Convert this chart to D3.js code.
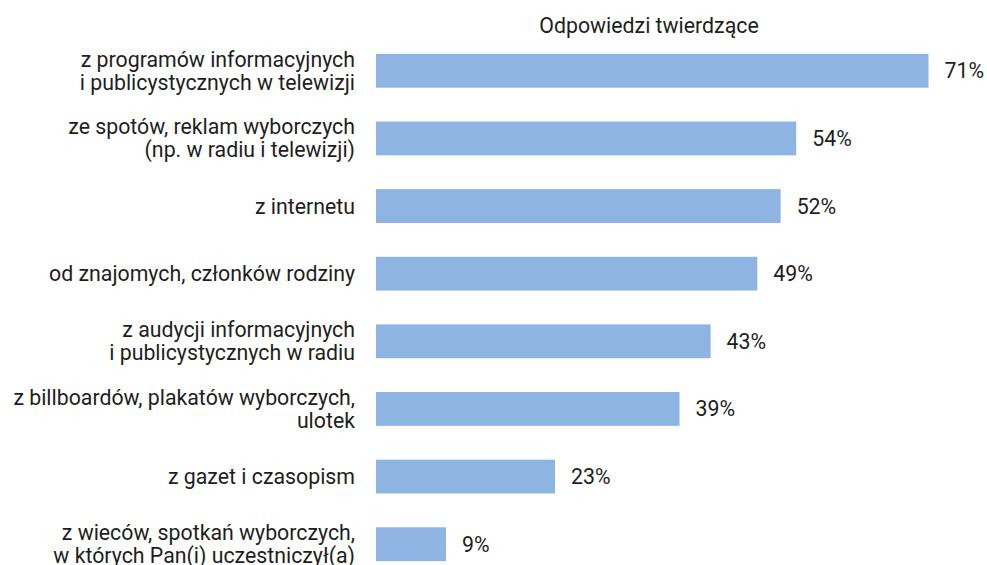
<!DOCTYPE html>
<html>
<head>
<meta charset="utf-8">
<script src="https://cdn.jsdelivr.net/npm/d3@7"></script>
<style>
  body { margin: 0; background: #fff; }
  text { font-family: Roboto, "Noto Sans", sans-serif; fill: #1e1e1e; }
</style>
</head>
<body>
<div class="canvas"></div>
<script>
// chart data
const categories = [
    ['z programów informacyjnych', 'i publicystycznych w telewizji'],
    ['ze spotów, reklam wyborczych', '(np. w radiu i telewizji)'],
    ['z internetu'],
    ['od znajomych, członków rodziny'],
    ['z audycji informacyjnych', 'i publicystycznych w radiu'],
    ['z billboardów, plakatów wyborczych,', 'ulotek'],
    ['z gazet i czasopism'],
    ['z wieców, spotkań wyborczych,', 'w których Pan(i) uczestniczył(a)']
];
const values = [71, 54, 52, 49, 43, 39, 23, 9];
const seriesName = 'Odpowiedzi twierdzące';

const dims = { width: 987, height: 565 };
const margin = { left: 376, top: 37, bottom: -13 };
const fontSize = 21.3;

const svg = d3.select('.canvas')
    .append('svg')
    .attr('width', dims.width)
    .attr('height', dims.height);

const x = d3.scaleLinear()
    .domain([0, 71])
    .range([margin.left, 928.5]);

const y = d3.scaleBand()
    .domain(d3.range(values.length))
    .range([margin.top, dims.height - margin.bottom])
    .paddingInner(0.5)
    .paddingOuter(0.25);

// series title
svg.append('text')
    .attr('x', 649)
    .attr('y', 33)
    .attr('text-anchor', 'middle')
    .attr('font-size', fontSize)
    .text(seriesName);

// bars
svg.selectAll('rect.bar')
    .data(values)
    .enter()
    .append('rect')
    .attr('class', 'bar')
    .attr('x', x(0))
    .attr('y', (d, i) => y(i))
    .attr('width', d => x(d) - x(0))
    .attr('height', y.bandwidth())
    .attr('fill', '#8eb4e3');

// value labels
svg.selectAll('text.val')
    .data(values)
    .enter()
    .append('text')
    .attr('class', 'val')
    .attr('x', d => x(d) + 16)
    .attr('y', (d, i) => y(i) + y.bandwidth() / 2)
    .attr('dominant-baseline', 'central')
    .attr('font-size', fontSize)
    .text(d => d + '%');

// category labels
const lineH = 23;
const labels = svg.selectAll('text.cat')
    .data(categories)
    .enter()
    .append('text')
    .attr('class', 'cat')
    .attr('text-anchor', 'end')
    .attr('font-size', fontSize);

labels.each(function (lines, i) {
    const cy = y(i) + y.bandwidth() / 2;
    const start = cy - (lines.length - 1) * lineH / 2;
    d3.select(this).selectAll('tspan')
        .data(lines)
        .enter()
        .append('tspan')
        .attr('x', 355)
        .attr('y', (d, j) => start + j * lineH)
        .attr('dominant-baseline', 'central')
        .text(d => d);
});
</script>
</body>
</html>
